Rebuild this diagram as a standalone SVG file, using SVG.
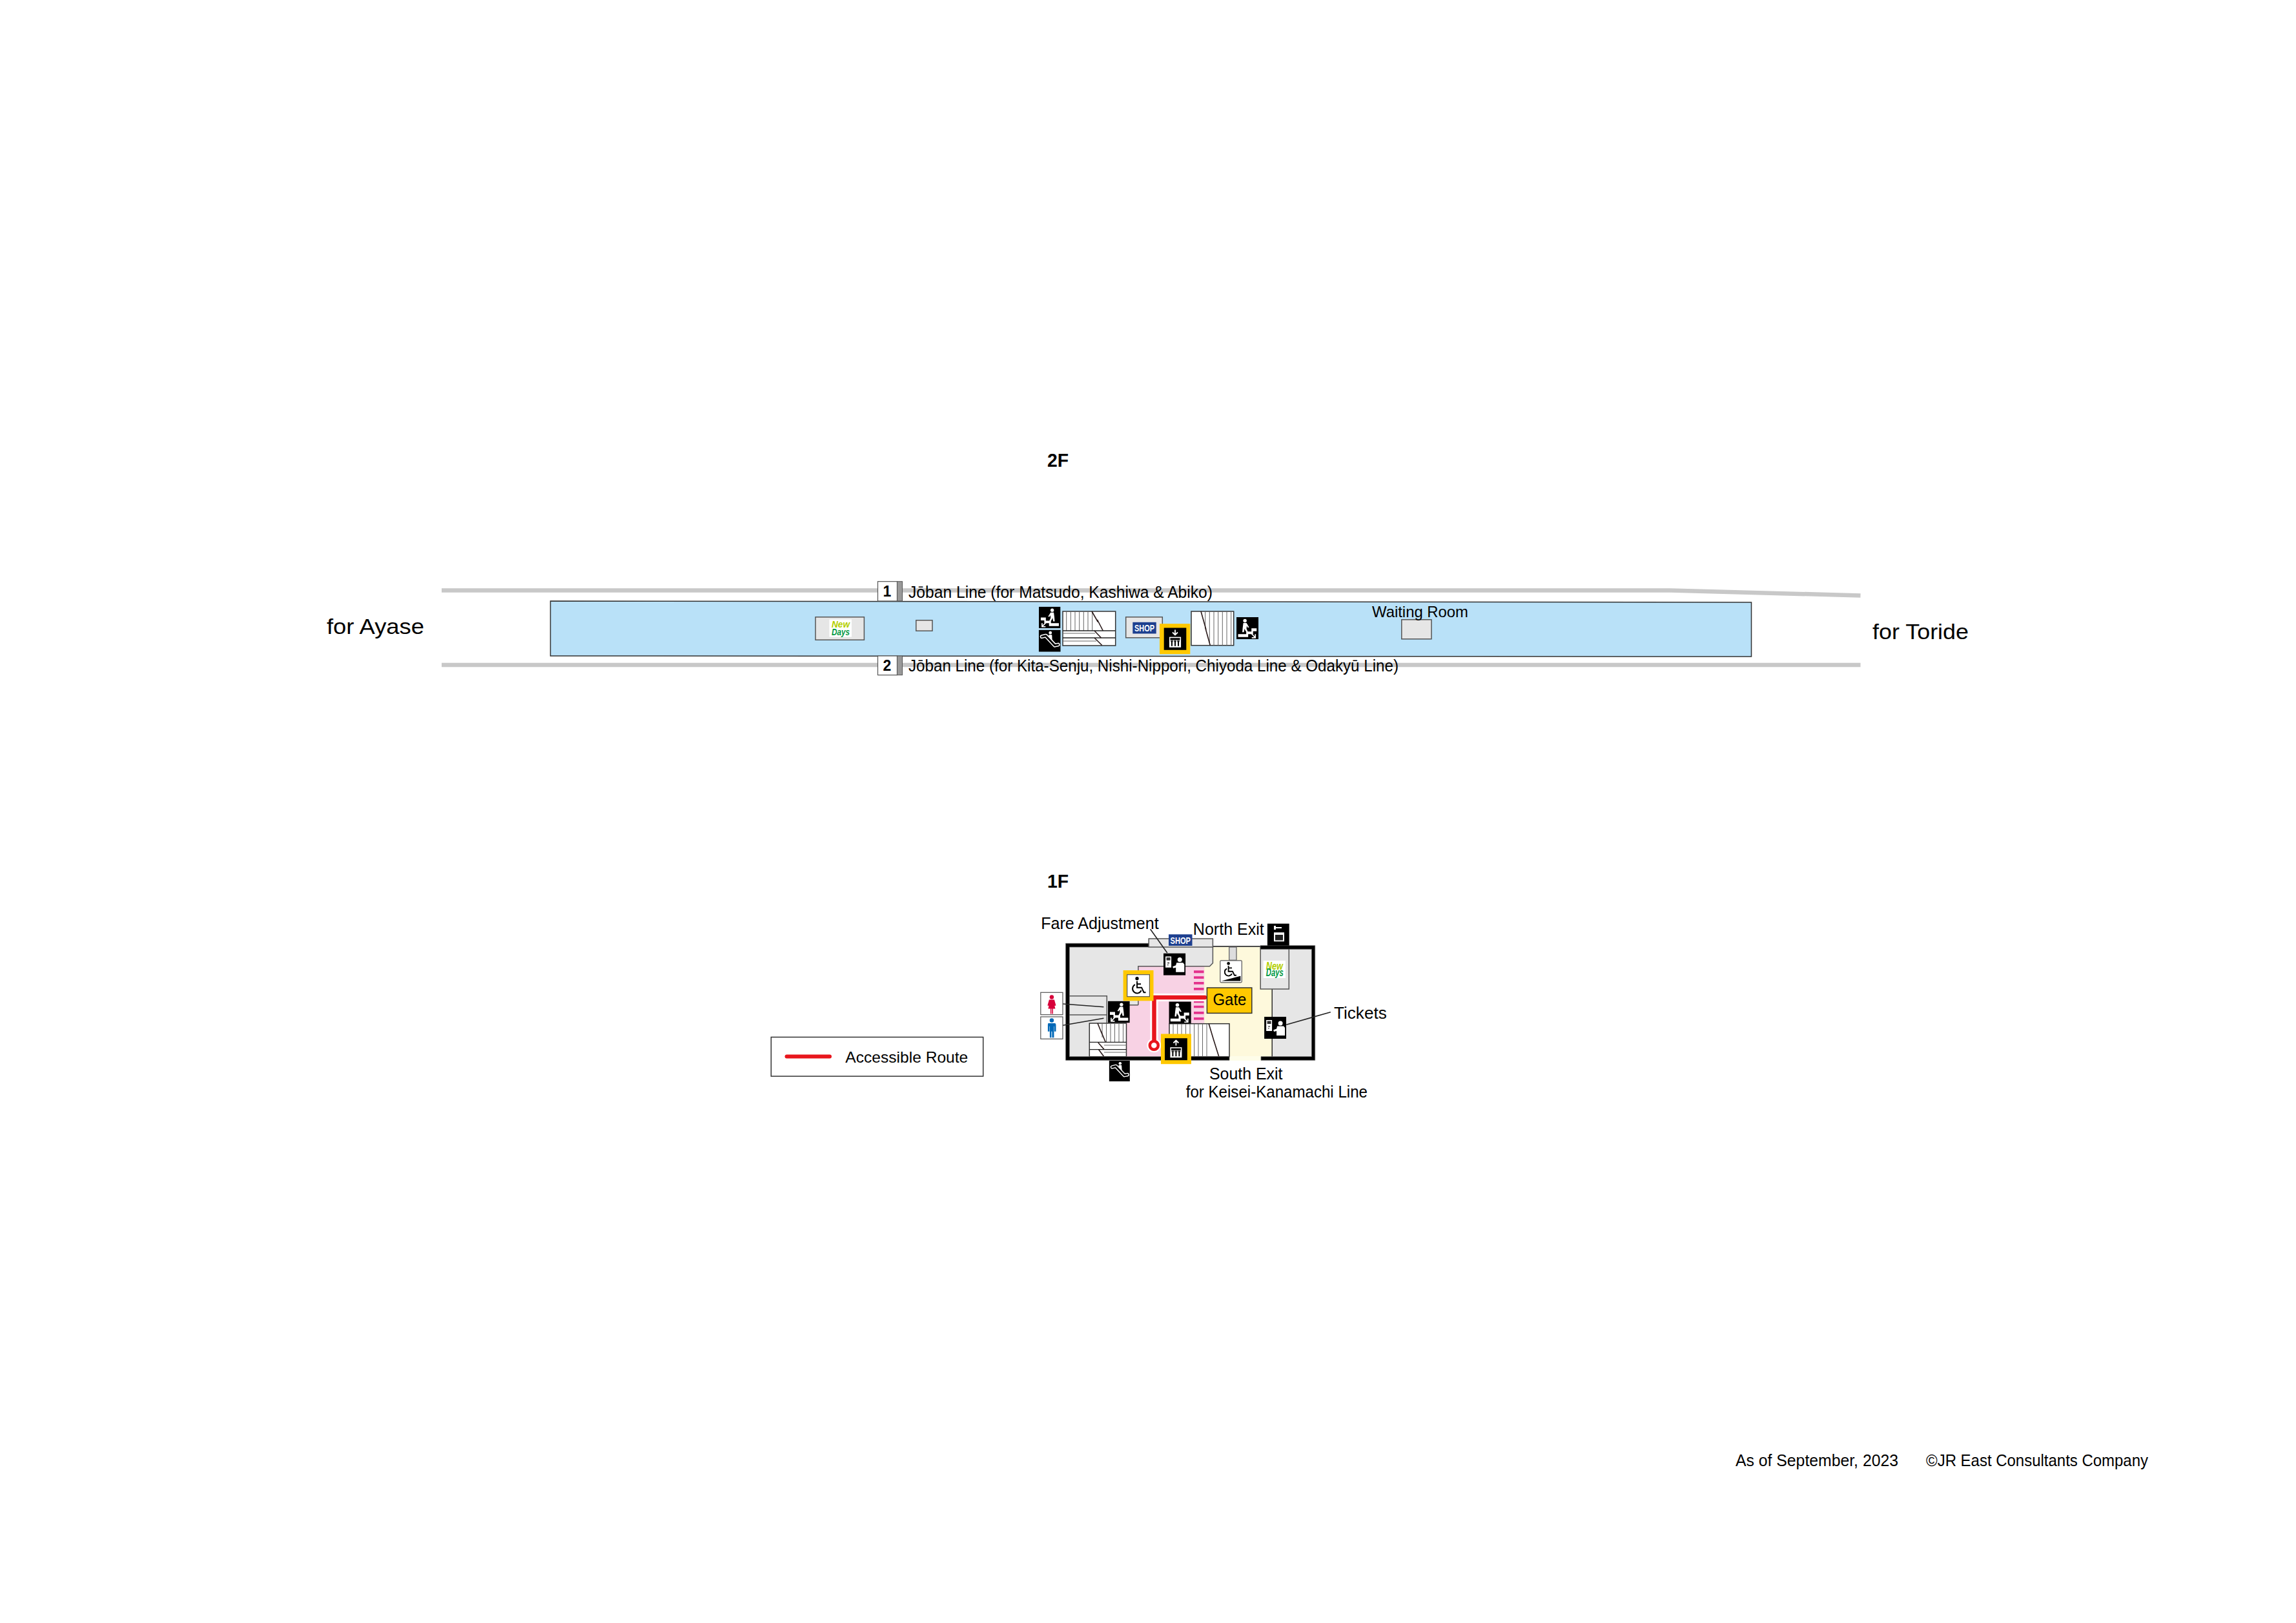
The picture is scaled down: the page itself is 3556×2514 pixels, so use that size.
<svg xmlns="http://www.w3.org/2000/svg" xmlns:xlink="http://www.w3.org/1999/xlink" width="3556" height="2514" viewBox="0 0 3556 2514">
<style>
text{font-family:"Liberation Sans","Noto Sans",Arial,sans-serif;fill:#000}
.b{font-weight:700}
.lab{font-size:25px}
.lead{stroke:#222;stroke-width:1.6;fill:none}
.track{stroke:#c8c8c8;stroke-width:6.5;fill:none}
.room{fill:#e6e6e6;stroke:#555;stroke-width:1.5}
.stair{fill:#fff;stroke:#333;stroke-width:1.5}
.sl{stroke:#666;stroke-width:1;fill:none}
.dg{stroke:#2a1a1a;stroke-width:1.6;fill:none}
.wall{fill:#000;stroke:#666;stroke-width:.8}
.ey{fill:#ffc800}
.bk{fill:#000}
.wh{fill:#fff}
.sign{fill:#fff;stroke:#555;stroke-width:1.2}
.stripe{fill:#e4328c}
.shopb{fill:#1d3f8f}
.shopt{fill:#fff;font-weight:700}
.new{fill:#b4cf00;font-weight:700;font-style:italic}
.days{fill:#009944;font-weight:700;font-style:italic}
</style>
<defs>
<symbol id="s-stair" viewBox="0 0 34 34">
<rect width="34" height="34" class="bk"/>
<circle cx="21" cy="5.500" r="2.700" class="wh"/>
<path class="wh" d="M18.500 9h5l1 8 .5 6h-2.400l-1-5.500-1 2.500-2 3h-2.500l2.500-5.500-.5-4-1.500 2.500-2-.5z"/>
<path class="wh" d="M3 17h8v5h8v4h12.500v4.500H16v-4.500H8.500v-4.500H3z"/>
<path d="M11 25 5.500 31M5 26v5.500h5.500" stroke="#fff" stroke-width="1.700" fill="none"/>
</symbol>
<symbol id="s-stair-m" viewBox="0 0 34 34">
<g transform="matrix(-1 0 0 1 34 0)"><use xlink:href="#s-stair" href="#s-stair" width="34" height="34"/></g>
</symbol>
<symbol id="s-esc" viewBox="0 0 34 34">
<rect width="34" height="34" class="bk"/>
<circle cx="18" cy="4.500" r="2.400" class="wh"/>
<path class="wh" d="M15.500 7.500h5l.5 9-1.500 1.500-3.500-4z"/>
<path d="M5 10.500 11 9 25 24 30 23" stroke="#fff" stroke-width="6" stroke-linecap="round" stroke-linejoin="round" fill="none"/>
<path d="M5 10.500 11 9 25 24 30 23" stroke="#000" stroke-width="3" stroke-linecap="round" stroke-linejoin="round" fill="none"/>
</symbol>
<symbol id="s-cage" viewBox="0 0 34 34">
<rect x="8" y="14" width="18" height="16" class="wh"/>
<path class="bk" d="M9.500 15.500h15v3h-15zM11 20h2v8h-2zM16 20h2v8h-2zM21 20h2v8h-2z"/>
<path class="bk" d="M10 18.500h4v3h-4zM15 18.500h4v3h-4zM20 18.500h4v3h-4z" opacity=".6"/>
</symbol>
<symbol id="s-ticket" viewBox="0 0 34 34">
<rect width="34" height="34" class="bk"/>
<rect x="3" y="5" width="9" height="17" class="wh"/>
<rect x="4.500" y="6.500" width="6" height="4.500" fill="#333"/>
<path d="M6 15h3M6 18h1.500" stroke="#000" stroke-width="1.200"/>
<circle cx="25" cy="10" r="3.500" class="wh"/>
<path class="wh" d="M20 14.500h10l2 2.500v12H19v-7l-4 1-1-2.500 5-2z"/>
</symbol>
<symbol id="s-wc" viewBox="0 0 34 34">
<circle cx="15" cy="6" r="2.700" class="bk"/>
<g fill="none" stroke="#000" stroke-width="2">
<path d="M15 10v10h7l3.500 7.500h3"/>
<path d="M15 14.500h6"/>
<path d="M12 15.500a7 7 0 1 0 9.500 9"/>
</g>
</symbol>
<symbol id="s-wcramp" viewBox="0 0 34 34">
<circle cx="13" cy="4.500" r="2.400" class="bk"/>
<g fill="none" stroke="#000" stroke-width="1.900">
<path d="M13 8v9h6.500l3 6h3"/>
<path d="M13 11.500h5.500"/>
<path d="M10.500 12.500a6 6 0 1 0 8 8"/>
</g>
<path class="bk" d="M2 32 32 24v8z"/>
</symbol>
<symbol id="s-wom" viewBox="0 0 34 34">
<circle cx="17" cy="7" r="3.200" fill="#d7003a"/>
<path fill="#d7003a" d="M13 11h8l2.500 9-2 .5-1-4 2 8.500H19v8h-1.500v-8h-1v8H15v-8h-3.500l2-8.500-1 4-2-.5z"/>
</symbol>
<symbol id="s-man" viewBox="0 0 34 34">
<circle cx="17" cy="5.500" r="3.200" fill="#0068b7"/>
<path fill="#0068b7" d="M11.500 10h11l1 2v10.500h-2.500V14.500h-.5V32H17.500V22.500h-1V32H14V14.500h-.5v8H11V12z"/>
</symbol>
</defs>

<rect width="3556" height="2514" fill="#fff"/>

<g id="labels-floor">
<text x="1622" y="722.500" class="b" font-size="29" textLength="33" lengthAdjust="spacingAndGlyphs">2F</text>
<text x="1622" y="1375.300" class="b" font-size="29" textLength="33" lengthAdjust="spacingAndGlyphs">1F</text>
<text x="506" y="982" font-size="34" textLength="151" lengthAdjust="spacingAndGlyphs">for Ayase</text>
<text x="2900" y="989.500" font-size="34" textLength="149" lengthAdjust="spacingAndGlyphs">for Toride</text>
</g>

<g id="tracks">
<path class="track" d="M684 914.500H2587L2881.500 922.500"/>
<path class="track" d="M684 1030H2881.500"/>
</g>

<g id="platform">
<path d="M852.500 931 2712.500 933V1017L852.500 1016Z" fill="#b9e1f8" stroke="#333" stroke-width="1.500"/>
</g>

<g id="badge-1">
<rect x="1359.500" y="900.700" width="30" height="30.300" class="sign"/>
<rect x="1389.500" y="900.700" width="8" height="30.300" fill="#999" stroke="#555"/>
<text x="1374" y="924" class="b" font-size="23" text-anchor="middle">1</text>
</g>
<g id="badge-2">
<rect x="1359.500" y="1016" width="30" height="29.600" class="sign"/>
<rect x="1389.500" y="1016" width="8" height="29.600" fill="#999" stroke="#555"/>
<text x="1374" y="1039" class="b" font-size="23" text-anchor="middle">2</text>
</g>
<g id="line-labels">
<text x="1407" y="925.500" class="lab" textLength="471" lengthAdjust="spacingAndGlyphs">Jōban Line (for Matsudo, Kashiwa &amp; Abiko)</text>
<text x="1407" y="1040" class="lab" textLength="759" lengthAdjust="spacingAndGlyphs">Jōban Line (for Kita-Senju, Nishi-Nippori, Chiyoda Line &amp; Odakyū Line)</text>
</g>

<g id="newdays-2f">
<rect x="1263" y="955.800" width="75.400" height="35.400" class="room"/>
<rect x="1284.400" y="959.500" width="34.600" height="27" class="wh"/>
<text x="1288" y="972" class="new" font-size="15" textLength="28" lengthAdjust="spacingAndGlyphs">New</text>
<text x="1288" y="983.500" class="days" font-size="15" textLength="28" lengthAdjust="spacingAndGlyphs">Days</text>
</g>
<g id="small-room"><rect x="1418.800" y="960.800" width="25.200" height="16.400" class="room"/></g>
<g id="waiting-room">
<rect x="2170.800" y="959.800" width="46.200" height="30" class="room"/>
<text x="2125" y="955.500" font-size="24" textLength="149" lengthAdjust="spacingAndGlyphs">Waiting Room</text>
</g>

<g id="stair-2f-west">
<rect x="1646" y="947" width="81.700" height="53" class="stair"/>
<path class="sl" d="M1651.700 947v30M1658.300 947v30M1665 947v30M1671.700 947v30M1678.300 947v30M1685 947v30M1691.700 947v30M1646 981h50M1646 993h52"/>
<path class="dg" d="M1691 947 1700.500 963.500 1699.500 960 1708.300 977"/>
<path d="M1646 977H1727.700M1646 988H1727.700" stroke="#222" stroke-width="1.300"/>
<path class="dg" d="M1695 977 1705.500 988M1695 988 1706.700 999.500"/>
</g>
<g id="stair-2f-east">
<rect x="1845" y="947" width="65.700" height="52.700" class="stair"/>
<path class="sl" d="M1866.700 947v25M1873.300 947v49M1880 947v52.700M1886.700 947v52.700M1893.300 947v52.700M1900 947v52.700M1906.700 947v52.700"/>
<path class="dg" d="M1860 947 1868 975.500 1866.500 971.500 1874.300 999.700"/>
</g>
<use id="icon-stair-2f-a" xlink:href="#s-stair" href="#s-stair" x="1608.700" y="939.800" width="34" height="33.400"/>
<use id="icon-esc-2f" xlink:href="#s-esc" href="#s-esc" x="1608.700" y="975.500" width="34" height="34.300"/>
<use id="icon-stair-2f-b" xlink:href="#s-stair-m" href="#s-stair-m" x="1915" y="955.800" width="34.300" height="34.700"/>
<g id="shop-2f">
<rect x="1743.700" y="955.800" width="56.600" height="32" class="room"/>
<rect x="1754.300" y="963.800" width="36.400" height="17.700" class="shopb"/>
<text x="1757" y="978" class="shopt" font-size="15" textLength="31" lengthAdjust="spacingAndGlyphs">SHOP</text>
</g>
<g id="elevator-2f">
<rect x="1796" y="966.200" width="47.300" height="47" class="ey"/>
<rect x="1802.700" y="972.500" width="34.600" height="34.300" class="bk"/>
<use xlink:href="#s-cage" href="#s-cage" x="1802.700" y="972.500" width="34.600" height="34.300"/>
<path d="M1820 975.500v7M1816 979.500l4 4 4-4" stroke="#fff" stroke-width="1.800" fill="none"/>
</g>

<g id="floor-1f">
<rect x="1655" y="1467" width="376" height="170" fill="#e6e6e6"/>
<path d="M1762.900 1496.700H1865.300V1636.700H1744.500V1556.700H1762.900Z" fill="#f8d2e4"/>
<path d="M1878.400 1467H1952.200V1532H1970.200V1637H1865.300V1496.700H1873.500L1878.400 1491.700Z" fill="#fef9dc"/>
<rect x="1904" y="1636" width="49" height="7" fill="#fefde9"/>
<path d="M1714.300 1585V1542.700H1656M1714.300 1572H1656M1762.900 1556.700V1496.700H1873.500L1878.400 1491.700V1467M1744.500 1556.700H1762.900" fill="none" stroke="#555" stroke-width="1.500"/>
<path d="M1970.200 1532V1637M1878.400 1466H1952" fill="none" stroke="#111" stroke-width="1.300"/>
<rect x="1952.200" y="1467" width="44.100" height="65" class="room"/>
<rect x="1956.700" y="1488" width="34.300" height="27" class="wh"/>
<text x="1960.800" y="1501.500" class="new" font-size="16" textLength="26.200" lengthAdjust="spacingAndGlyphs">New</text>
<text x="1960.800" y="1512" class="days" font-size="16" textLength="27" lengthAdjust="spacingAndGlyphs">Days</text>
<rect x="1903.700" y="1467" width="11.300" height="20.300" fill="#ddd" stroke="#666" stroke-width="1.300"/>
</g>
<g id="stair-1f-sw">
<rect x="1687.300" y="1585" width="57.200" height="51.700" class="stair"/>
<path class="sl" d="M1707 1585v22M1713.500 1585v29.300M1720 1585v29.300M1726.500 1585v29.300M1733 1585v29.300M1739.500 1585v29.300M1710 1619h34.500M1710 1630h34.500"/>
<path class="dg" d="M1700 1585 1706.500 1601 1705.500 1598 1712.200 1614.300M1700.800 1615 1710.200 1625.700M1701.600 1625.700 1709.800 1636.700"/>
<path d="M1687.300 1614.300H1744.500M1687.300 1625.700H1744.500" stroke="#222" stroke-width="1.300"/>
</g>
<g id="stair-1f-s">
<rect x="1811" y="1585.700" width="93" height="51" class="stair"/>
<path class="sl" d="M1817 1585.700v51M1823.700 1585.700v51M1830 1585.700v51M1836.500 1585.700v51M1843 1585.700v51M1849.600 1585.700v51M1856 1585.700v51M1862.500 1585.700v51M1869 1585.700v51"/>
<path class="dg" d="M1872.200 1585.700 1880 1612 1878.800 1608 1887.800 1636.700"/>
</g>
<g id="stripes">
<path class="stripe" d="M1849 1503.300h15.500v4H1849zM1849 1512.300h15.500v3.700H1849zM1849 1521h15.500v3.700H1849zM1849 1530h15.500v3.700H1849zM1849 1550h15.500v3.300H1849zM1849 1557.700h15.500v3.600H1849zM1849 1567h15.500v3.700H1849zM1849 1576h15.500v3.700H1849z"/>
</g>
<g id="walls-1f">
<path class="wall" d="M1650.600 1461.300H1779V1467H1656.300V1636.700H1904V1642.300H1650.600Z"/>
<path class="wall" d="M1952 1464.700H2036.700V1642.300H1953V1636.700H2031.400V1470.300H1952Z"/>
</g>
<g id="shop-1f">
<path d="M1779.200 1467V1454H1878.400V1467Z" class="room"/>
<rect x="1810" y="1447.300" width="36.500" height="17.700" class="shopb"/>
<text x="1812.500" y="1461.500" class="shopt" font-size="15" textLength="31.500" lengthAdjust="spacingAndGlyphs">SHOP</text>
</g>

<g id="connectors">
<path class="lead" d="M1781.600 1439.300 1807.800 1476"/>
<path class="lead" d="M1992.200 1587.300 2060.800 1567.700"/>
<path class="lead" d="M1646 1555 1709.400 1559.700"/>
<path class="lead" d="M1646 1588.300 1709.400 1577.300"/>
</g>

<g id="accessible-route">
<path d="M1866 1545H1787.500V1619" fill="none" stroke="#fff" stroke-width="12"/>
<circle cx="1787.300" cy="1619.300" r="11" fill="#fff"/>
<path d="M1866 1545H1787.500V1612" fill="none" stroke="#e8161d" stroke-width="6.500" stroke-linecap="round"/>
<circle cx="1787.300" cy="1619.300" r="6.500" fill="#fff" stroke="#e8161d" stroke-width="4.500"/>
</g>

<g id="gate">
<rect x="1869.400" y="1530" width="69.400" height="39.400" class="ey" stroke="#333" stroke-width="1.500"/>
<text x="1878.400" y="1557" font-size="25" textLength="52" lengthAdjust="spacingAndGlyphs">Gate</text>
</g>
<use id="icon-fare" xlink:href="#s-ticket" href="#s-ticket" x="1802" y="1476.500" width="34.300" height="34.300"/>
<use id="icon-tickets" xlink:href="#s-ticket" href="#s-ticket" x="1958" y="1575" width="34.200" height="34"/>
<use id="icon-stair-1f-a" xlink:href="#s-stair" href="#s-stair" x="1716" y="1550.500" width="33.800" height="34"/>
<use id="icon-stair-1f-b" xlink:href="#s-stair-m" href="#s-stair-m" x="1810.200" y="1551.200" width="34.700" height="34.600"/>
<use id="icon-esc-1f" xlink:href="#s-esc" href="#s-esc" x="1717" y="1643" width="33.700" height="32"/>
<g id="wheelchair-1f">
<rect x="1739.600" y="1503" width="46.900" height="47.300" class="ey"/>
<rect x="1745.700" y="1509.700" width="34.700" height="34" class="sign" stroke="#000"/>
<use xlink:href="#s-wc" href="#s-wc" x="1745.700" y="1509.700" width="34.700" height="34"/>
</g>
<g id="wheelchair-ramp">
<rect x="1889.800" y="1487.800" width="33.500" height="34" rx="1.500" class="sign"/>
<use xlink:href="#s-wcramp" href="#s-wcramp" x="1889.800" y="1487.800" width="33.500" height="34"/>
</g>
<g id="elevator-1f">
<rect x="1798" y="1601.500" width="46.900" height="46.700" class="ey"/>
<rect x="1804" y="1608.200" width="34.800" height="34" class="bk"/>
<use xlink:href="#s-cage" href="#s-cage" x="1804" y="1608.200" width="34.800" height="34"/>
<path d="M1821.400 1619.500v-8M1817.400 1615.500l4-4 4 4" stroke="#fff" stroke-width="1.800" fill="none"/>
</g>
<g id="elevator-north">
<rect x="1962.900" y="1430.700" width="33.800" height="34" class="bk"/>
<path class="wh" d="M1973 1434h3v2h9v2h-9v2h-3z"/>
<rect x="1973" y="1444.300" width="16" height="14" class="wh"/>
<rect x="1975" y="1448" width="12" height="8.500" fill="#222"/>
</g>
<g id="toilet-f">
<rect x="1611.800" y="1537.300" width="34.200" height="34.400" class="sign"/>
<use xlink:href="#s-wom" href="#s-wom" x="1611.800" y="1537.300" width="34.200" height="34.400"/>
</g>
<g id="toilet-m">
<rect x="1611.800" y="1575" width="34.200" height="34.300" class="sign"/>
<use xlink:href="#s-man" href="#s-man" x="1611.800" y="1575" width="34.200" height="34.300"/>
</g>

<g id="labels-1f">
<text x="1612.200" y="1439" class="lab" textLength="182.500" lengthAdjust="spacingAndGlyphs">Fare Adjustment</text>
<text x="1847.800" y="1447.500" class="lab" textLength="110" lengthAdjust="spacingAndGlyphs">North Exit</text>
<text x="2066" y="1578" class="lab" textLength="81.800" lengthAdjust="spacingAndGlyphs">Tickets</text>
<text x="1873" y="1672" class="lab" textLength="113.500" lengthAdjust="spacingAndGlyphs">South Exit</text>
<text x="1836.700" y="1700.300" class="lab" textLength="281.300" lengthAdjust="spacingAndGlyphs">for Keisei-Kanamachi Line</text>
</g>

<g id="legend">
<rect x="1194.300" y="1606.500" width="328.400" height="60.600" fill="#fff" stroke="#333" stroke-width="1.500"/>
<path d="M1218.500 1636.500H1285" stroke="#e8161d" stroke-width="6" stroke-linecap="round"/>
<text x="1309.300" y="1645.500" font-size="24" textLength="190" lengthAdjust="spacingAndGlyphs">Accessible Route</text>
</g>
<g id="credits">
<text x="2688" y="2270.500" class="lab" textLength="252" lengthAdjust="spacingAndGlyphs">As of September, 2023</text>
<text x="2983" y="2270.500" class="lab" textLength="344" lengthAdjust="spacingAndGlyphs">©JR East Consultants Company</text>
</g>
</svg>
